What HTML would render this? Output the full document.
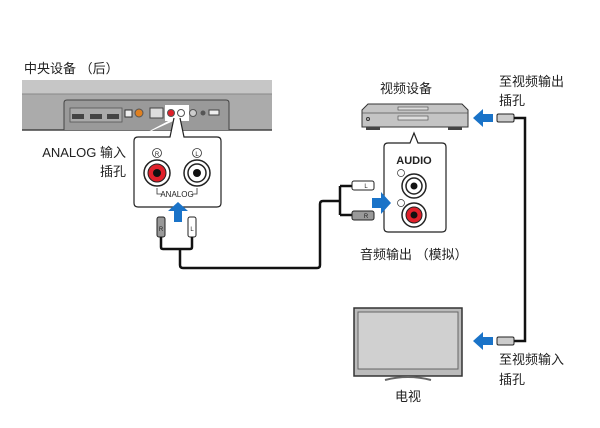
<!DOCTYPE html>
<html><head><meta charset="utf-8"><style>
body{margin:0;background:#fff}
svg text{font-family:"Liberation Sans","Noto Sans CJK SC",sans-serif;fill:#222}
</style></head><body>
<svg width="600" height="423" viewBox="0 0 600 423" xmlns="http://www.w3.org/2000/svg">
<text x="24" y="73" font-size="13">中央设备 （后）</text>
<!-- soundbar -->
<rect x="22" y="80" width="250" height="50" fill="#ababab"/>
<rect x="22" y="80" width="250" height="14" fill="#c6c6c6"/>
<line x1="22" y1="94" x2="272" y2="94" stroke="#888" stroke-width="1"/>
<line x1="22" y1="130" x2="272" y2="130" stroke="#444" stroke-width="1.5"/>
<path d="M64 130 V103 Q64 100 67 100 H226 Q229 100 229 103 V130" fill="#9a9a9a" stroke="#444" stroke-width="1"/>
<rect x="70" y="108" width="52" height="14" fill="#aaa" stroke="#555" stroke-width="0.8"/>
<rect x="72" y="114" width="12" height="5" fill="#444"/><rect x="90" y="114" width="12" height="5" fill="#444"/><rect x="107" y="114" width="12" height="5" fill="#444"/>
<rect x="125" y="110" width="7" height="7" fill="#eee" stroke="#333"/>
<circle cx="139" cy="113" r="4" fill="#e08020" stroke="#555"/>
<rect x="150" y="108" width="13" height="10" fill="#ddd" stroke="#444"/>
<rect x="165" y="105" width="24" height="16" fill="#fff"/>
<circle cx="171" cy="113" r="3.5" fill="#e0202a" stroke="#555"/>
<circle cx="181" cy="113" r="3.5" fill="#fff" stroke="#555"/>
<circle cx="193" cy="113" r="3.5" fill="#ccc" stroke="#555"/>
<circle cx="203" cy="113" r="2.5" fill="#555"/>
<rect x="209" y="110" width="10" height="5" fill="#eee" stroke="#444"/>
<!-- callout 1 -->
<path d="M138 137 H170 L174 118 M180 118 L184 137 H217 Q221 137 221 141 V203 Q221 207 217 207 H138 Q134 207 134 203 V141 Q134 137 138 137" fill="#fff" stroke="#222" stroke-width="1.2"/>
<circle cx="157" cy="153" r="4.5" fill="#fff" stroke="#333" stroke-width="0.8"/><text x="157" y="156" font-size="6" text-anchor="middle">R</text>
<circle cx="197" cy="153" r="4.5" fill="#fff" stroke="#333" stroke-width="0.8"/><text x="197" y="156" font-size="6" text-anchor="middle">L</text>
<circle cx="157" cy="173" r="13" fill="#fff" stroke="#222" stroke-width="1.5"/><circle cx="157" cy="173" r="9" fill="#e0202a" stroke="#222"/><circle cx="157" cy="173" r="4" fill="#111"/>
<circle cx="197" cy="173" r="13" fill="#fff" stroke="#222" stroke-width="1.5"/><circle cx="197" cy="173" r="9" fill="#fff" stroke="#222" stroke-width="1.5"/><circle cx="197" cy="173" r="4" fill="#111"/>
<path d="M157 188 V194 H162 M192 194 H197 V188" fill="none" stroke="#333" stroke-width="0.8"/>
<text x="177" y="197" font-size="8" text-anchor="middle">ANALOG</text>
<path d="M178 202 L188 211 H182 V222 H174 V211 H168 Z" fill="#1a73c8"/>
<text x="126" y="157" font-size="13" text-anchor="end">ANALOG 输入</text>
<text x="126" y="176" font-size="13" text-anchor="end">插孔</text>
<!-- plugs -->
<rect x="157" y="217" width="8" height="20" rx="2" fill="#999" stroke="#222"/><text x="161" y="231" font-size="6" text-anchor="middle">R</text>
<rect x="188" y="217" width="8" height="20" rx="2" fill="#fff" stroke="#222"/><text x="192" y="231" font-size="6" text-anchor="middle">L</text>
<path d="M161 237 V247 Q161 249 163 249 H190 Q192 249 192 247 V237 M180 249 V265 Q180 268 183 268 H317 Q320 268 320 265 V204 Q320 201 323 201 H340 M340 186 V215 M340 186 H352 M340 215 H352" fill="none" stroke="#111" stroke-width="2.5"/>
<rect x="352" y="181" width="22" height="9" rx="2" fill="#fff" stroke="#222"/><text x="366" y="188" font-size="6" text-anchor="middle">L</text>
<rect x="352" y="211" width="22" height="9" rx="2" fill="#999" stroke="#222"/><text x="366" y="218" font-size="6" text-anchor="middle">R</text>
<!-- video device -->
<text x="380" y="93" font-size="13">视频设备</text>
<path d="M362 110 L368 104 H462 L468 110 V127 H362 Z" fill="#c4c4c4" stroke="#333"/>
<line x1="362" y1="113" x2="468" y2="113" stroke="#555" stroke-width="0.8"/>
<rect x="398" y="107" width="30" height="3" fill="#ddd" stroke="#444" stroke-width="0.6"/>
<rect x="398" y="116" width="30" height="4" fill="#ddd" stroke="#444" stroke-width="0.6"/>
<circle cx="368" cy="119" r="1.5" fill="none" stroke="#333"/>
<rect x="366" y="127" width="14" height="3" fill="#444"/><rect x="448" y="127" width="14" height="3" fill="#444"/>
<path d="M388 143 H410 L414 133 L418 143 H442 Q446 143 446 147 V228 Q446 232 442 232 H388 Q384 232 384 228 V147 Q384 143 388 143" fill="#fff" stroke="#222" stroke-width="1.2"/>
<text x="414" y="164" font-size="11" font-weight="bold" text-anchor="middle">AUDIO</text>
<circle cx="401" cy="173" r="3.5" fill="#fff" stroke="#333" stroke-width="0.7"/>
<circle cx="401" cy="203" r="3.5" fill="#fff" stroke="#333" stroke-width="0.7"/>
<circle cx="414" cy="186" r="12" fill="#fff" stroke="#222" stroke-width="1.5"/><circle cx="414" cy="186" r="8" fill="#fff" stroke="#222" stroke-width="1.5"/><circle cx="414" cy="186" r="3.5" fill="#111"/>
<circle cx="414" cy="215" r="12" fill="#fff" stroke="#222" stroke-width="1.5"/><circle cx="414" cy="215" r="8" fill="#e0202a" stroke="#222"/><circle cx="414" cy="215" r="3.5" fill="#111"/>
<path d="M372 198 H381 V192 L391 203 L381 214 V208 H372 Z" fill="#1a73c8"/>
<text x="360" y="259" font-size="13">音频输出 （模拟）</text>
<!-- right cable -->
<text x="499" y="86" font-size="13">至视频输出</text>
<text x="499" y="105" font-size="13">插孔</text>
<path d="M473 118 L483 109 V114 H493 V122 H483 V127 Z" fill="#1a73c8"/>
<rect x="497" y="114" width="17" height="8" rx="1.5" fill="#ccc" stroke="#222"/>
<path d="M514 118 H525 V341 H514" fill="none" stroke="#111" stroke-width="2.5"/>
<rect x="497" y="337" width="17" height="8" rx="1.5" fill="#ccc" stroke="#222"/>
<path d="M473 341 L483 332 V337 H493 V345 H483 V350 Z" fill="#1a73c8"/>
<text x="499" y="364" font-size="13">至视频输入</text>
<text x="499" y="384" font-size="13">插孔</text>
<!-- TV -->
<rect x="354" y="308" width="108" height="68" fill="#bbb" stroke="#333" stroke-width="1.5"/>
<rect x="358" y="312" width="100" height="57" fill="#d0d0d0" stroke="#666"/>
<path d="M385 380 Q408 374 431 380" fill="none" stroke="#666" stroke-width="2"/>
<text x="395" y="401" font-size="13">电视</text>
</svg>
</body></html>
